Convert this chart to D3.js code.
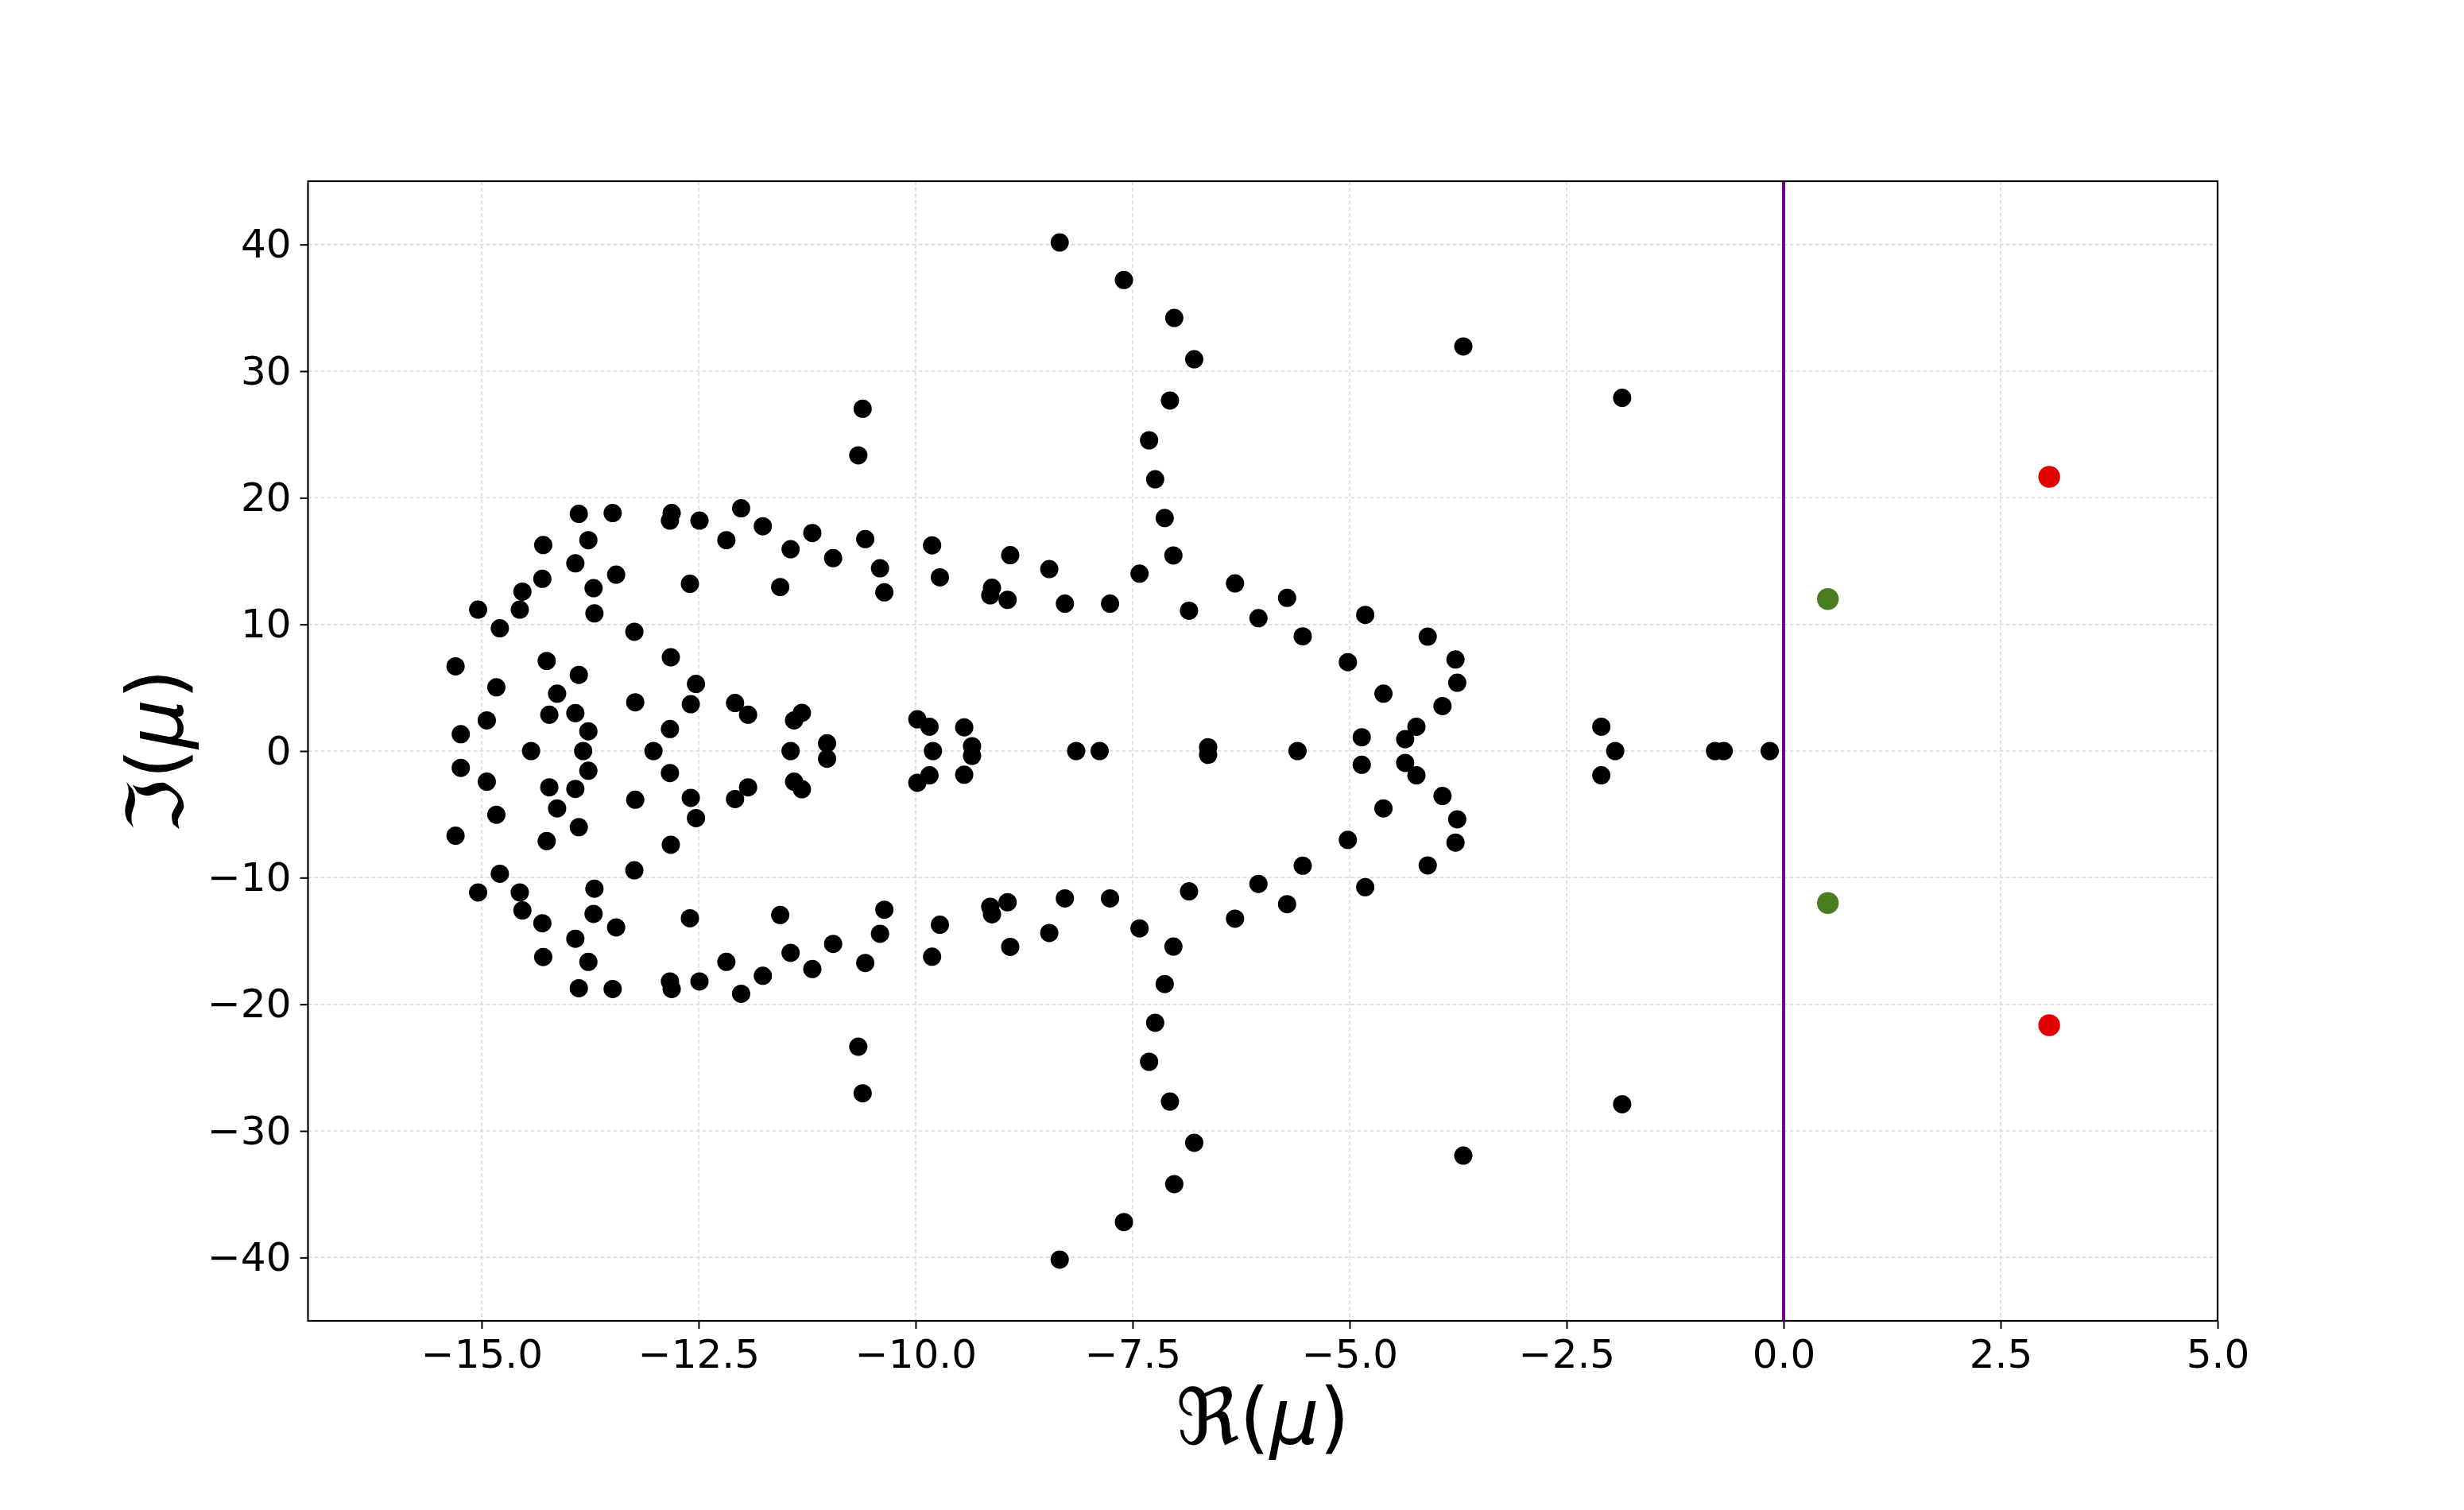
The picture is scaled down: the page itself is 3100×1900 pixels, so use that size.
<!DOCTYPE html>
<html>
<head>
<meta charset="utf-8">
<script src="https://cdn.jsdelivr.net/npm/d3@7"></script>
<style>
  html, body { margin: 0; padding: 0; background: #ffffff; }
  svg { display: block; }
</style>
</head>
<body>
<svg id="chart" width="3100" height="1900"></svg>
<script>
// ---- Data: eigenvalues mu (real part, imaginary part) ----
const eigRe = [
  // upper half-plane
  -13.88, -13.49, -12.81, -12.83, -12.49, -12.01, -11.76, -12.18, -11.44, -14.29,
  -13.77, -13.92, -14.30, -13.45, -14.53, -13.71, -12.60, -11.56, -15.04, -14.56,
  -13.70, -14.79, -13.24, -15.30, -14.25, -12.82, -13.88, -14.83, -14.13, -12.53,
  -13.23, -12.59, -12.08, -11.93, -11.40, -14.94, -14.22, -13.92, -13.77, -12.83,
  -15.24,
  -8.34, -7.60, -7.02, -6.79, -7.07, -7.31, -7.24, -7.13, -7.03, -7.42,
  -6.32, -6.85, -6.05, -10.61, -10.66, -11.19, -10.95, -10.58, -10.41, -10.36,
  -9.81, -9.72, -9.12, -9.14, -8.94, -8.91, -8.46, -8.28, -7.76, -11.31,
  -11.02, -9.98, -9.84, -9.44, -9.35, -6.63,
  -3.69, -1.86, -5.72, -5.54, -4.82, -5.02, -4.10, -3.78, -3.76, -4.61,
  -3.93, -4.23, -4.36, -4.86, -2.10,
  // real axis
  -14.43, -13.83, -13.02, -11.44, -9.80, -8.15, -7.88, -5.60, -1.94, -0.79,
  -0.69, -0.16,
  // lower half-plane
  -13.88, -13.49, -12.81, -12.83, -12.49, -12.01, -11.76, -12.18, -11.44, -14.29,
  -13.77, -13.92, -14.30, -13.45, -14.53, -13.71, -12.60, -11.56, -15.04, -14.56,
  -13.70, -14.79, -13.24, -15.30, -14.25, -12.82, -13.88, -14.83, -14.13, -12.53,
  -13.23, -12.59, -12.08, -11.93, -11.40, -14.94, -14.22, -13.92, -13.77, -12.83,
  -15.24,
  -8.34, -7.60, -7.02, -6.79, -7.07, -7.31, -7.24, -7.13, -7.03, -7.42,
  -6.32, -6.85, -6.05, -10.61, -10.66, -11.19, -10.95, -10.58, -10.41, -10.36,
  -9.81, -9.72, -9.12, -9.14, -8.94, -8.91, -8.46, -8.28, -7.76, -11.31,
  -11.02, -9.98, -9.84, -9.44, -9.35, -6.63,
  -3.69, -1.86, -5.72, -5.54, -4.82, -5.02, -4.10, -3.78, -3.76, -4.61,
  -3.93, -4.23, -4.36, -4.86, -2.10
];
const eigIm = [
  18.73, 18.79, 18.79, 18.20, 18.20, 19.17, 17.75, 16.65, 15.94, 16.27,
  16.65, 14.82, 13.60, 13.93, 12.59, 12.86, 13.21, 12.95, 11.17, 11.17,
  10.87, 9.69, 9.42, 6.69, 7.11, 7.40, 6.01, 5.03, 4.53, 5.30,
  3.85, 3.70, 3.79, 2.87, 2.42, 2.42, 2.87, 2.99, 1.56, 1.74,
  1.33,
  40.16, 37.20, 34.20, 30.94, 27.68, 24.54, 21.46, 18.40, 15.44, 14.01,
  13.24, 11.08, 10.49, 27.03, 23.35, 17.22, 15.23, 16.74, 14.43, 12.53,
  16.24, 13.72, 12.89, 12.30, 11.94, 15.47, 14.37, 11.64, 11.64, 3.02,
  0.61, 2.51, 1.92, 1.87, 0.38, 0.30,
  31.95, 27.89, 12.09, 9.06, 10.75, 7.02, 9.03, 7.23, 5.39, 4.53,
  3.55, 1.92, 0.94, 1.09, 1.92,
  0, 0, 0, 0, 0, 0, 0, 0, 0, 0,
  0, 0,
  -18.73, -18.79, -18.79, -18.20, -18.20, -19.17, -17.75, -16.65, -15.94, -16.27,
  -16.65, -14.82, -13.60, -13.93, -12.59, -12.86, -13.21, -12.95, -11.17, -11.17,
  -10.87, -9.69, -9.42, -6.69, -7.11, -7.40, -6.01, -5.03, -4.53, -5.30,
  -3.85, -3.70, -3.79, -2.87, -2.42, -2.42, -2.87, -2.99, -1.56, -1.74,
  -1.33,
  -40.16, -37.20, -34.20, -30.94, -27.68, -24.54, -21.46, -18.40, -15.44, -14.01,
  -13.24, -11.08, -10.49, -27.03, -23.35, -17.22, -15.23, -16.74, -14.43, -12.53,
  -16.24, -13.72, -12.89, -12.30, -11.94, -15.47, -14.37, -11.64, -11.64, -3.02,
  -0.61, -2.51, -1.92, -1.87, -0.38, -0.30,
  -31.95, -27.89, -12.09, -9.06, -10.75, -7.02, -9.03, -7.23, -5.39, -4.53,
  -3.55, -1.92, -0.94, -1.09, -1.92
];
// highlighted eigenvalues
const greenRe = [0.51, 0.51];
const greenIm = [12.0, -12.0];
const redRe = [3.06, 3.06];
const redIm = [21.65, -21.65];
// axes
const xDomain = [-17, 5];
const yDomain = [-45, 45];
const xTicks = [-15, -12.5, -10, -7.5, -5, -2.5, 0, 2.5, 5];
const yTicks = [-40, -30, -20, -10, 0, 10, 20, 30, 40];
const vLineX = [0];

// ---- Layout ----
const L = 387.5, R = 2790, T = 228, B = 1662;
const FONT = "'DejaVu Sans', 'Liberation Sans', sans-serif";
const svg = d3.select("#chart");
svg.append("rect").attr("width", 3100).attr("height", 1900).attr("fill", "#fff");

const x = d3.scaleLinear().domain(xDomain).range([L, R]);
const y = d3.scaleLinear().domain(yDomain).range([B, T]);
const minus = s => s.replace(/-/g, "\u2212");

// grid
const grid = svg.append("g");
grid.selectAll("line.gx").data(xTicks).enter().append("line")
  .attr("x1", d => x(d)).attr("x2", d => x(d)).attr("y1", T).attr("y2", B)
  .attr("stroke", "#d9d9d9").attr("stroke-width", 1.5).attr("stroke-dasharray", "5,3");
grid.selectAll("line.gy").data(yTicks).enter().append("line")
  .attr("x1", L).attr("x2", R).attr("y1", d => y(d)).attr("y2", d => y(d))
  .attr("stroke", "#d9d9d9").attr("stroke-width", 1.5).attr("stroke-dasharray", "5,3");

// vertical line at Re=0
svg.selectAll("line.v").data(vLineX).enter().append("line")
  .attr("x1", d => x(d)).attr("x2", d => x(d)).attr("y1", T).attr("y2", B)
  .attr("stroke", "#760090").attr("stroke-width", 4);

// points
const pts = eigRe.map((r, i) => ({ r, i: eigIm[i] }));
svg.append("g").selectAll("circle").data(pts).enter().append("circle")
  .attr("cx", d => x(d.r)).attr("cy", d => y(d.i)).attr("r", 11.5).attr("fill", "#000");
svg.append("g").selectAll("circle").data(greenRe.map((r, i) => ({ r, i: greenIm[i] }))).enter().append("circle")
  .attr("cx", d => x(d.r)).attr("cy", d => y(d.i)).attr("r", 13.7).attr("fill", "#4a7d1f");
svg.append("g").selectAll("circle").data(redRe.map((r, i) => ({ r, i: redIm[i] }))).enter().append("circle")
  .attr("cx", d => x(d.r)).attr("cy", d => y(d.i)).attr("r", 13.7).attr("fill", "#e00000");

// axes
const xAxis = d3.axisBottom(x).tickValues(xTicks).tickSize(10).tickPadding(13)
  .tickFormat(d => minus(d3.format(".1f")(d)));
const yAxis = d3.axisLeft(y).tickValues(yTicks).tickSize(10).tickPadding(11)
  .tickFormat(d => minus(d3.format("d")(d)));
const gx = svg.append("g").attr("transform", `translate(0,${B})`).call(xAxis);
const gy = svg.append("g").attr("transform", `translate(${L},0)`).call(yAxis);
[gx, gy].forEach(g => {
  g.select(".domain").remove();
  g.selectAll(".tick line").attr("stroke", "#000").attr("stroke-width", 2);
  g.selectAll(".tick text").attr("fill", "#000").style("font-family", FONT).style("font-size", "50px");
});

// frame
svg.append("rect").attr("x", L).attr("y", T).attr("width", R - L).attr("height", B - T)
  .attr("fill", "none").attr("stroke", "#000").attr("stroke-width", 2.2);

// axis labels
const xl = svg.append("text").attr("x", (L + R) / 2).attr("y", 1817)
  .attr("text-anchor", "middle").style("font-family", FONT).style("font-size", "98px").attr("fill", "#000");
xl.append("tspan").text("\u211C(");
xl.append("tspan").style("font-style", "italic").text("\u03BC");
xl.append("tspan").text(")");

const yl = svg.append("text").attr("transform", `translate(230,${(T + B) / 2}) rotate(-90)`)
  .attr("text-anchor", "middle").style("font-family", FONT).style("font-size", "98px").attr("fill", "#000");
yl.append("tspan").text("\u2111(");
yl.append("tspan").style("font-style", "italic").text("\u03BC");
yl.append("tspan").text(")");
</script>
</body>
</html>
